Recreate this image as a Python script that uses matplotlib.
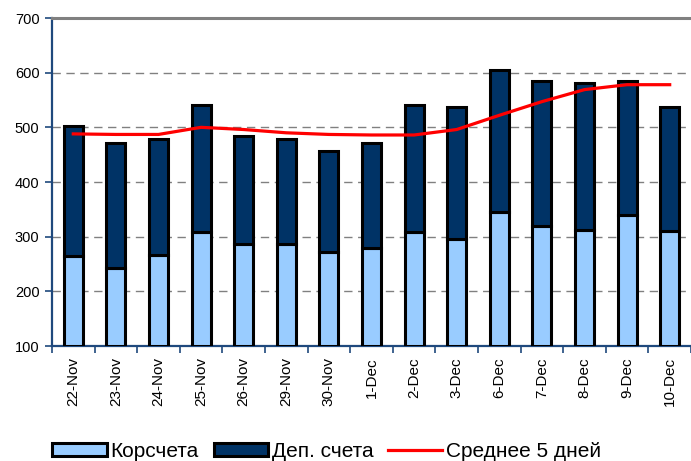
import matplotlib
matplotlib.use("Agg")
import matplotlib.pyplot as plt
import numpy as np

categories = ["22-Nov", "23-Nov", "24-Nov", "25-Nov", "26-Nov", "29-Nov", "30-Nov",
              "1-Dec", "2-Dec", "3-Dec", "6-Dec", "7-Dec", "8-Dec", "9-Dec", "10-Dec"]
korscheta = [264, 243, 266, 309, 287, 287, 272, 279, 308, 295, 346, 319, 312, 339, 310]
totals = [503, 471, 478, 541, 485, 478, 457, 472, 540, 537, 605, 584, 582, 584, 538]
dep_scheta = [t - k for t, k in zip(totals, korscheta)]
avg5 = [488, 487, 487, 500, 496, 490, 487, 486, 486, 496, 522, 547, 569, 578, 578]

plt.rcParams['font.family'] = ['Liberation Sans', 'DejaVu Sans']

fig = plt.figure(figsize=(6.91, 4.61), dpi=100)
ax = fig.add_axes([52/691, (461-346)/461, 1 - 52/691, (346-18)/461])

x = np.arange(len(categories))
light = "#99CCFF"
dark = "#003366"
floor = 100
b1 = ax.bar(x, np.array(korscheta) - floor, width=0.45, bottom=floor, color=light,
            edgecolor="black", linewidth=2.2, label="Корсчета", zorder=3)
b2 = ax.bar(x, dep_scheta, width=0.45, bottom=np.array(korscheta), color=dark,
            edgecolor="black", linewidth=2.2, label="Деп. счета", zorder=3)
ln, = ax.plot(x, avg5, color="#FF0000", linewidth=2.3, label="Среднее 5 дней", zorder=4)

ax.set_xlim(-0.5, len(x) - 0.5)
ax.set_ylim(100, 700)
ax.set_yticks([100, 200, 300, 400, 500, 600, 700])
ax.set_yticklabels(["100", "200", "300", "400", "500", "600", "700"], fontsize=10.5)
ax.set_xticks(x)
ax.set_xticklabels(categories, rotation=90, fontsize=11)
ax.set_xticks(np.arange(-0.5, len(x) + 0.5, 1), minor=True)
axis_col = "#1F497D"
ax.tick_params(axis="x", which="major", length=0, pad=8)
ax.tick_params(axis="x", which="minor", length=5, width=1.2, color=axis_col, direction="out")
ax.tick_params(axis="y", length=5, width=1.2, color=axis_col, direction="out", pad=4)

for yv in [200, 300, 400, 500, 600]:
    ax.axhline(yv, color="#808080", linestyle=(0, (6, 4)), linewidth=1.0, zorder=1)

ax.spines["top"].set_color("#808080")
ax.spines["top"].set_linewidth(2.2)
ax.spines["right"].set_visible(False)
ax.spines["left"].set_color(axis_col)
ax.spines["left"].set_linewidth(1.6)
ax.spines["bottom"].set_color(axis_col)
ax.spines["bottom"].set_linewidth(1.6)

leg = fig.legend([b1, b2, ln], ["Корсчета", "Деп. счета", "Среднее 5 дней"],
                 loc="center", bbox_to_anchor=(327/691, 1 - 451/461), ncol=3, frameon=False,
                 fontsize=15, handlelength=2.6, handleheight=0.6, handletextpad=0.2,
                 columnspacing=0.7)

fig.savefig("out.png", dpi=100)
